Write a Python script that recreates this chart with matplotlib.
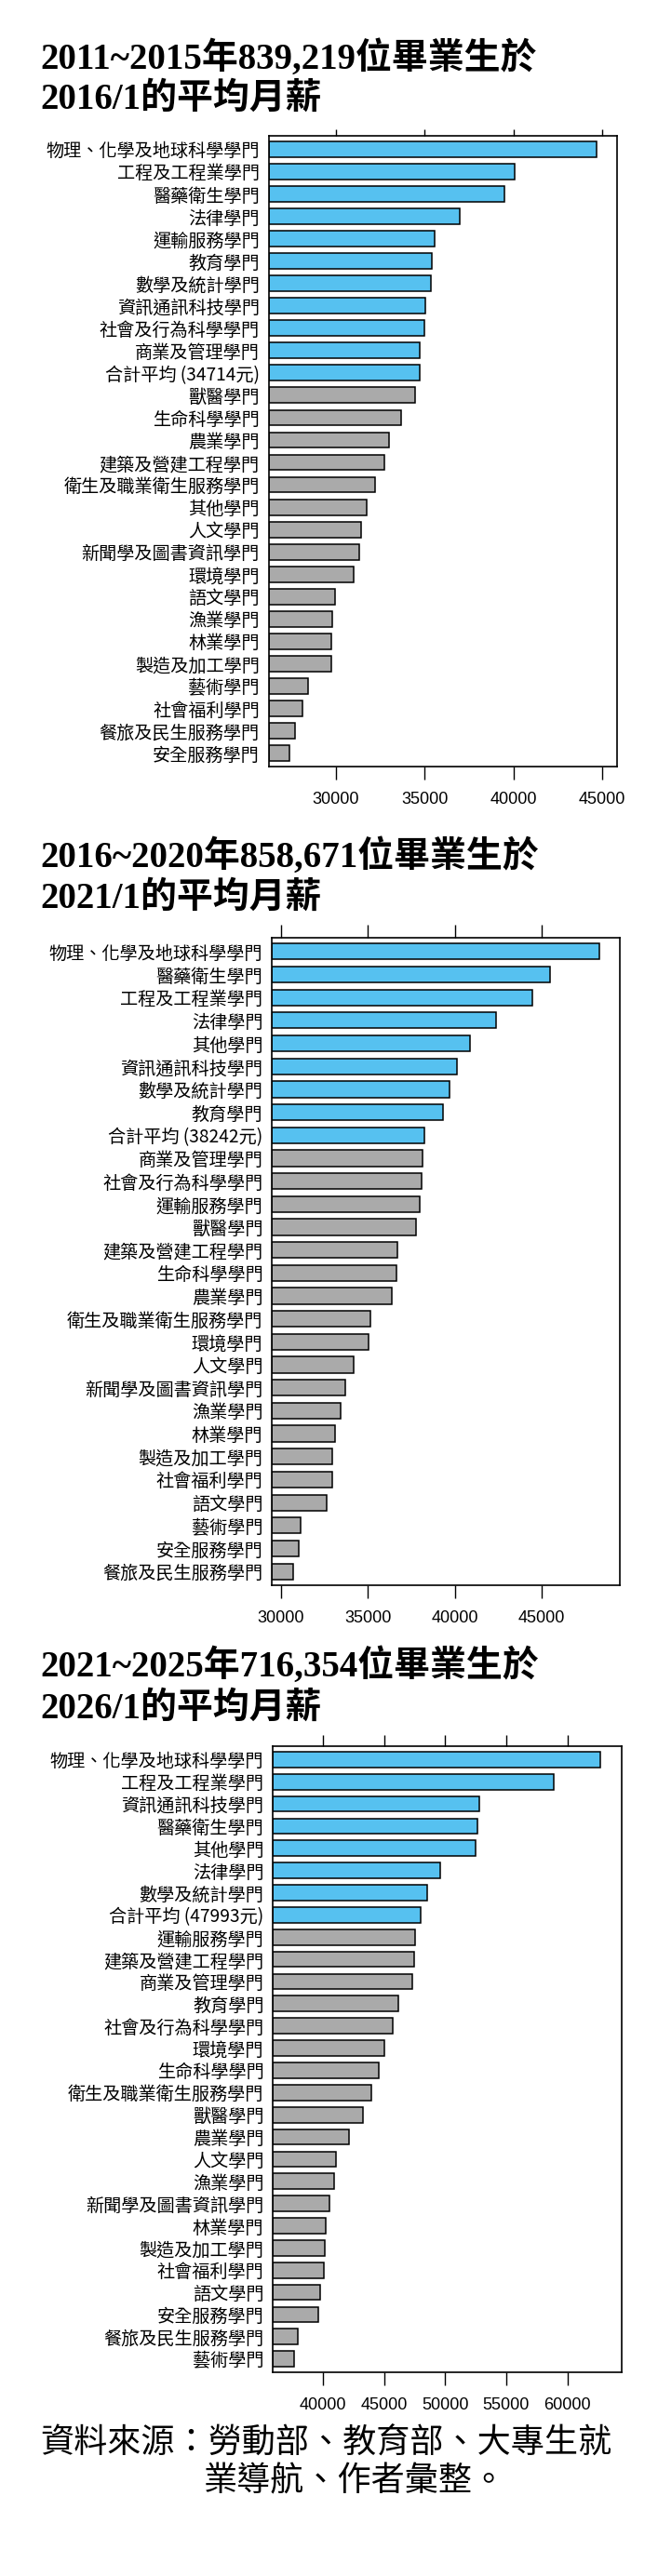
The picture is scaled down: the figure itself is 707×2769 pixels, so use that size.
import matplotlib
matplotlib.use('Agg')
import matplotlib.pyplot as plt

CJK = ['Noto Sans CJK TC', 'DejaVu Sans']
TITLE_FONT = ['Liberation Serif', 'Noto Sans CJK TC', 'DejaVu Serif']
NUM_FONT = ['Liberation Sans', 'DejaVu Sans']
plt.rcParams['font.family'] = CJK

BLUE = '#56C1F0'
GRAY = '#AAAAAA'

# 2011~2015 畢業生，2016/1 平均月薪
title_1 = ['2011~2015年839,219位畢業生於', '2016/1的平均月薪']
fields_1 = ['物理、化學及地球科學學門', '工程及工程業學門', '醫藥衛生學門', '法律學門',
            '運輸服務學門', '教育學門', '數學及統計學門', '資訊通訊科技學門',
            '社會及行為科學學門', '商業及管理學門', '合計平均 (34714元)', '獸醫學門',
            '生命科學學門', '農業學門', '建築及營建工程學門', '衛生及職業衛生服務學門',
            '其他學門', '人文學門', '新聞學及圖書資訊學門', '環境學門', '語文學門',
            '漁業學門', '林業學門', '製造及加工學門', '藝術學門', '社會福利學門',
            '餐旅及民生服務學門', '安全服務學門']
salary_1 = [44694, 40093, 39473, 37003, 35577, 35435, 35363, 35057, 35010, 34749,
            34714, 34487, 33680, 33015, 32730, 32230, 31757, 31425, 31330, 30997,
            29976, 29786, 29763, 29750, 28455, 28100, 27700, 27365]
ticks_1 = [30000, 35000, 40000, 45000]
xlim_1 = (26217, 45839)

# 2016~2020 畢業生，2021/1 平均月薪
title_2 = ['2016~2020年858,671位畢業生於', '2021/1的平均月薪']
fields_2 = ['物理、化學及地球科學學門', '醫藥衛生學門', '工程及工程業學門', '法律學門',
            '其他學門', '資訊通訊科技學門', '數學及統計學門', '教育學門',
            '合計平均 (38242元)', '商業及管理學門', '社會及行為科學學門', '運輸服務學門',
            '獸醫學門', '建築及營建工程學門', '生命科學學門', '農業學門',
            '衛生及職業衛生服務學門', '環境學門', '人文學門', '新聞學及圖書資訊學門',
            '漁業學門', '林業學門', '製造及加工學門', '社會福利學門', '語文學門',
            '藝術學門', '安全服務學門', '餐旅及民生服務學門']
salary_2 = [48312, 45464, 44449, 42370, 40870, 40123, 39688, 39326, 38242, 38116,
            38094, 38000, 37783, 36696, 36667, 36377, 35145, 35029, 34203, 33674,
            33406, 33116, 32971, 32949, 32609, 31138, 31014, 30681]
ticks_2 = [30000, 35000, 40000, 45000]
xlim_2 = (29465, 49513)

# 2021~2025 畢業生，2026/1 平均月薪
title_3 = ['2021~2025年716,354位畢業生於', '2026/1的平均月薪']
fields_3 = ['物理、化學及地球科學學門', '工程及工程業學門', '資訊通訊科技學門', '醫藥衛生學門',
            '其他學門', '法律學門', '數學及統計學門', '合計平均 (47993元)', '運輸服務學門',
            '建築及營建工程學門', '商業及管理學門', '教育學門', '社會及行為科學學門',
            '環境學門', '生命科學學門', '衛生及職業衛生服務學門', '獸醫學門', '農業學門',
            '人文學門', '漁業學門', '新聞學及圖書資訊學門', '林業學門', '製造及加工學門',
            '社會福利學門', '語文學門', '安全服務學門', '餐旅及民生服務學門', '藝術學門']
salary_3 = [62680, 58897, 52784, 52608, 52505, 49619, 48515, 47993, 47557, 47423,
            47320, 46186, 45670, 45052, 44536, 43979, 43258, 42124, 41062, 40887,
            40515, 40237, 40134, 40031, 39722, 39588, 37897, 37629]
ticks_3 = [40000, 45000, 50000, 55000, 60000]
xlim_3 = (35877, 64436)

source_1 = '資料來源：勞動部、教育部、大專生就'
source_2 = '業導航、作者彙整。'

W, H = 707, 2769
fig = plt.figure(figsize=(W / 100, H / 100), dpi=100)

# (標題基線1, 標題基線2, 左, 右, 上, 下, 上刻度長) 單位: 像素
PANELS = [
    (title_1, fields_1, salary_1, ticks_1, xlim_1, (74, 117, 288.6, 663.0, 146, 824, 5)),
    (title_2, fields_2, salary_2, ticks_2, xlim_2, (932, 976, 292.0, 666.4, 1008, 1704, 10)),
    (title_3, fields_3, salary_3, ticks_3, xlim_3, (1802, 1847, 293.1, 667.8, 1877, 2550, 9)),
]

for title, fields, salary, ticks, xlim, (b1, b2, l, r, t, b, top_len) in PANELS:
    for txt, base in zip(title, (b1, b2)):
        fig.text(43 / W, 1 - base / H, txt, fontsize=28, fontweight='bold',
                 family=TITLE_FONT, va='baseline', ha='left')

    ax = fig.add_axes([l / W, 1 - b / H, (r - l) / W, (b - t) / H])
    n_avg = next(i for i, f in enumerate(fields) if f.startswith('合計平均'))
    colors = [BLUE if i <= n_avg else GRAY for i in range(len(fields))]
    y = list(range(len(fields)))
    ax.barh(y, [v - xlim[0] for v in salary], left=xlim[0], height=0.7,
            color=colors, edgecolor='black', linewidth=1.1)
    ax.set_xlim(*xlim)
    ax.set_ylim(len(fields) - 0.4, -0.6)
    ax.set_yticks(y)
    ax.set_yticklabels(fields, fontsize=13.8, family=CJK)
    ax.tick_params(axis='y', length=0, pad=7)
    ax.set_xticks(ticks)
    ax.set_xticklabels([str(v) for v in ticks], fontsize=13, family=NUM_FONT)
    ax.tick_params(axis='x', length=10, width=1, pad=9.5)
    for s in ax.spines.values():
        s.set_linewidth(1.2)
    sec = ax.secondary_xaxis('top')
    sec.set_xticks(ticks)
    sec.set_xticklabels([])
    sec.tick_params(length=top_len, width=1)
    sec.spines['top'].set_visible(False)

fig.text(43 / W, 1 - 2626 / H, source_1, fontsize=26, va='center', ha='left', family=CJK)
fig.text(219 / W, 1 - 2667 / H, source_2, fontsize=26, va='center', ha='left', family=CJK)

fig.savefig('out.png', dpi=100, facecolor='white')
